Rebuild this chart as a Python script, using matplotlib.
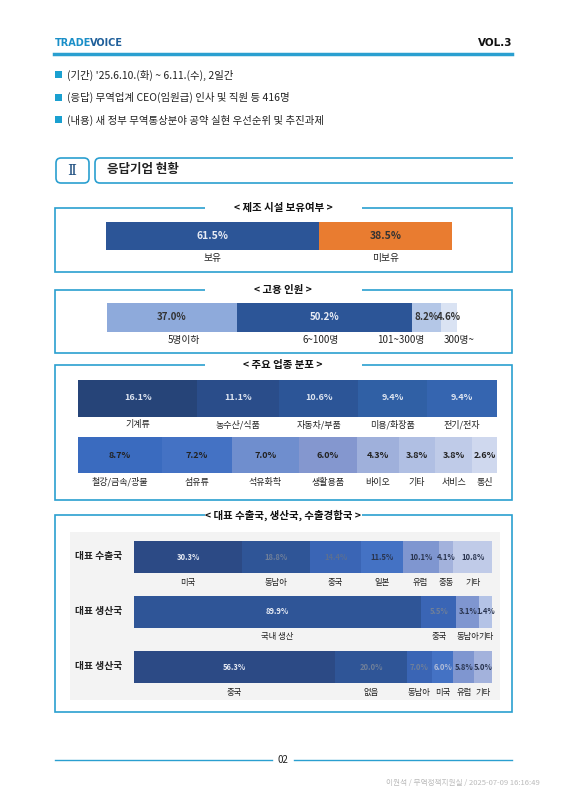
import matplotlib.pyplot as plt
from matplotlib.patches import FancyBboxPatch, Rectangle
import numpy as np

plt.rcParams['font.family'] = ['Noto Sans CJK KR', 'DejaVu Sans']

# ---- data ----
facility_labels = ['보유', '미보유']
facility_values = [61.5, 38.5]

staff_labels = ['5명이하', '6~100명', '101~300명', '300명~']
staff_values = [37.0, 50.2, 8.2, 4.6]

industry1_labels = ['기계류', '농수산/식품', '자동차/부품', '미용/화장품', '전기/전자']
industry1_values = [16.1, 11.1, 10.6, 9.4, 9.4]
industry2_labels = ['철강/금속/광물', '섬유류', '석유화학', '생활용품', '바이오', '기타', '서비스', '통신']
industry2_values = [8.7, 7.2, 7.0, 6.0, 4.3, 3.8, 3.8, 2.6]

export_labels = ['미국', '동남아', '중국', '일본', '유럽', '중동', '기타']
export_values = [30.3, 18.8, 14.4, 11.5, 10.1, 4.1, 10.8]
prod_labels = ['국내 생산', '중국', '동남아', '기타']
prod_values = [89.9, 5.5, 3.1, 1.4]
comp_labels = ['중국', '없음', '동남아', '미국', '유럽', '기타']
comp_values = [56.3, 20.0, 7.0, 6.0, 5.8, 5.0]

BLUE = '#2a9fd0'

fig = plt.figure(figsize=(5.66, 8), dpi=100)
ax = fig.add_axes([0, 0, 1, 1])
ax.set_xlim(0, 566)
ax.set_ylim(800, 0)
ax.axis('off')


def stacked(values, labels, colors, tcolors, x0, x1, yc, h, ly, fs=7, lfs=7,
            loffs=None, power=1.0):
    vals = np.array(values, dtype=float)
    # power < 1 widens the small slices (the source chart does this on one row)
    w = vals ** power
    scale = (x1 - x0) / w.sum()
    lefts = x0 + np.concatenate([[0], np.cumsum(w)[:-1]]) * scale
    widths = w * scale
    ax.barh(yc, widths, left=lefts, height=h, color=colors, edgecolor='none')
    for i, (l, wd, v) in enumerate(zip(lefts, widths, vals)):
        ax.text(l + wd / 2, yc, f'{v:.1f}%', ha='center', va='center', fontsize=fs,
                color=tcolors[i], fontweight='bold')
        off = loffs[i] if loffs else 0
        ax.text(l + wd / 2 + off, ly, labels[i], ha='center', va='center',
                fontsize=lfs, color='#222222')


def panel(y0, y1, title):
    ax.add_patch(Rectangle((55, y0), 457, y1 - y0, fill=False, ec=BLUE, lw=1.2))
    ax.add_patch(Rectangle((205, y0 - 4), 157, 8, fc='white', ec='none', zorder=3))
    ax.text(283, y0, title, ha='center', va='center', fontsize=7.5,
            fontweight='bold', color='#111111', zorder=4)


# header
ax.text(55, 43, 'TRADE', fontsize=7, fontweight='bold', color='#1a8fc8', va='center',
        family='DejaVu Sans')
ax.text(90, 43, 'VOICE', fontsize=7, fontweight='bold', color='#1f5f9a', va='center',
        family='DejaVu Sans')
ax.text(512, 43, 'VOL.3', fontsize=7.5, fontweight='bold', color='#111111', va='center',
        ha='right', family='DejaVu Sans')
ax.plot([54, 512], [54, 54], color=BLUE, lw=2.5)

bullets = ["(기간) '25.6.10.(화) ~ 6.11.(수), 2일간",
           '(응답) 무역업계 CEO(임원급) 인사 및 직원 등 416명',
           '(내용) 새 정부 무역통상분야 공약 실현 우선순위 및 추진과제']
for i, b in enumerate(bullets):
    y = 75 + i * 22.5
    ax.add_patch(Rectangle((55, y - 4), 7, 7, fc='#1aa0d0', ec='none'))
    ax.text(67, y, b, fontsize=7.5, va='center', color='#222222')

# section header
ax.add_patch(FancyBboxPatch((56, 158), 33, 25, boxstyle='round,pad=0,rounding_size=5',
                            fc='white', ec=BLUE, lw=1.2))
ax.add_patch(FancyBboxPatch((95, 158), 430, 25, boxstyle='round,pad=0,rounding_size=5',
                            fc='white', ec=BLUE, lw=1.2))
ax.add_patch(Rectangle((513, 156), 20, 30, fc='white', ec='none', zorder=3))
ax.text(72, 171, 'Ⅱ', fontsize=11, ha='center', va='center', color='#1f4f80',
        family='DejaVu Serif')
ax.text(107, 170, '응답기업 현황', fontsize=9, fontweight='bold', va='center', color='#222222')

# panel 1
panel(208, 272, '< 제조 시설 보유여부 >')
stacked(facility_values, facility_labels, ['#2c5597', '#e97c30'], ['#e8ecf5', '#333333'],
        106, 452, 236, 28, 258, fs=7.5)

# panel 2
panel(290, 353, '< 고용 인원 >')
stacked(staff_values, staff_labels, ['#8eaadb', '#2c5597', '#b4c7e7', '#dae3f3'],
        ['#333333', '#e8ecf5', '#333333', '#333333'],
        107, 457, 317, 29, 340, loffs=[12, -4, -26, 10])

# panel 3
panel(365, 500, '< 주요 업종 분포 >')
stacked(industry1_values, industry1_labels,
        ['#264478', '#2a4d8a', '#2c5597', '#3060a5', '#3565b0'],
        ['#dde4f0'] * 5, 78, 497, 398, 37, 425, fs=6.5, lfs=6.5)
stacked(industry2_values, industry2_labels,
        ['#3a6bbf', '#4472c4', '#6f8ece', '#8497cf', '#9fb0db', '#b0bfe3', '#bfcbe8', '#cfd8ee'],
        ['#222222'] * 8, 78, 497, 455, 36, 482, fs=6.5, lfs=6.5)

# panel 4
panel(515, 712, '< 대표 수출국, 생산국, 수출경합국 >')
ax.add_patch(Rectangle((70, 532), 430, 168, fc='#f3f3f3', ec='none'))
rows = [('대표 수출국', export_values, export_labels,
         ['#2c4a85', '#2f5597', '#3a65b5', '#4472c4', '#7f96d0', '#a3b2dc', '#c0cbe8'],
         ['#e8ecf5', '#6f7f99', '#5b6f92', '#2a3550', '#2a3550', '#2a3550', '#2a3550'], 1.0),
        ('대표 생산국', prod_values, prod_labels,
         ['#2f5597', '#3a65b5', '#7f96d0', '#b4c3e6'],
         ['#e8ecf5', '#6f7f99', '#2a3550', '#2a3550'], 0.75),
        ('대표 생산국', comp_values, comp_labels,
         ['#2c4a85', '#2f5597', '#3a65b5', '#4472c4', '#7f96d0', '#a3b2dc'],
         ['#e8ecf5', '#6f7f99', '#6f7f99', '#b0bcd8', '#2a3550', '#2a3550'], 1.0)]
for i, (name, vals, labs, cols, tcols, pw) in enumerate(rows):
    yc = 557 + i * 55
    ax.text(75, yc - 1, name, fontsize=7, va='center', color='#222222', fontweight='bold')
    stacked(vals, labs, cols, tcols, 134, 492, yc, 32, yc + 25, fs=5.5, lfs=6, power=pw)

# footer
ax.plot([55, 272], [760, 760], color=BLUE, lw=1)
ax.plot([294, 512], [760, 760], color=BLUE, lw=1)
ax.text(283, 760, '02', fontsize=7, ha='center', va='center', color='#222222')
ax.text(540, 783, '이원석 / 무역정책지원실 / 2025-07-09 16:16:49', fontsize=5.5,
        ha='right', va='center', color='#bbbbbb')

fig.savefig('out.png', dpi=100)
